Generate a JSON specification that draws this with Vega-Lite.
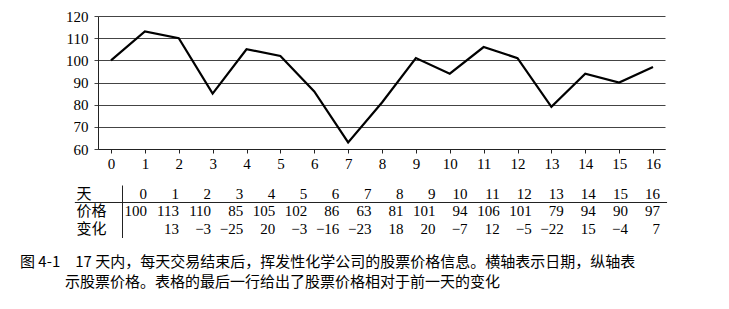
{
  "$schema": "https://vega.github.io/schema/vega-lite/v6.json",
  "padding": {"left": 20, "top": 9, "right": 2, "bottom": 5},
  "background": "white",
  "config": {"view": {"stroke": null}, "font": "Liberation Serif, DejaVu Serif, serif", "concat": {"spacing": 14}},
  "title": {
    "text": ["图 4-1\u300017 天内，每天交易结束后，挥发性化学公司的股票价格信息。横轴表示日期，纵轴表", "\u200b\u3000\u3000\u3000示股票价格。表格的最后一行给出了股票价格相对于前一天的变化"],
    "orient": "bottom", "anchor": "start", "frame": "group",
    "font": "Noto Sans CJK SC", "fontSize": 15, "fontWeight": "normal",
    "lineHeight": 20, "color": "black", "offset": 17, "dx": -78
  },
  "data": {"values": [
    {"天": 0, "价格": 100, "变化": null},
    {"天": 1, "价格": 113, "变化": 13},
    {"天": 2, "价格": 110, "变化": -3},
    {"天": 3, "价格": 85, "变化": -25},
    {"天": 4, "价格": 105, "变化": 20},
    {"天": 5, "价格": 102, "变化": -3},
    {"天": 6, "价格": 86, "变化": -16},
    {"天": 7, "价格": 63, "变化": -23},
    {"天": 8, "价格": 81, "变化": 18},
    {"天": 9, "价格": 101, "变化": 20},
    {"天": 10, "价格": 94, "变化": -7},
    {"天": 11, "价格": 106, "变化": 12},
    {"天": 12, "价格": 101, "变化": -5},
    {"天": 13, "价格": 79, "变化": -22},
    {"天": 14, "价格": 94, "变化": 15},
    {"天": 15, "价格": 90, "变化": -4},
    {"天": 16, "价格": 97, "变化": 7}
  ]},
  "vconcat": [
    {
      "width": 567,
      "height": 133,
      "mark": {"type": "line", "color": "black", "strokeWidth": 2.2},
      "encoding": {
        "x": {
          "field": "天", "type": "quantitative",
          "scale": {"domain": [-0.384, 16.354], "nice": false, "zero": false},
          "axis": {
            "values": [0, 1, 2, 3, 4, 5, 6, 7, 8, 9, 10, 11, 12, 13, 14, 15, 16],
            "title": null, "grid": false, "tickSize": 4, "labelPadding": 3,
            "labelFontSize": 15, "labelFont": "Liberation Serif, DejaVu Serif, serif", "labelColor": "black",
            "labelFlush": false, "domainColor": "#222", "tickColor": "#222"
          }
        },
        "y": {
          "field": "价格", "type": "quantitative",
          "scale": {"domain": [60, 120], "nice": false, "zero": false},
          "axis": {
            "values": [60, 70, 80, 90, 100, 110, 120],
            "title": null, "grid": true, "gridColor": "#444", "gridOpacity": 1, "gridWidth": 1,
            "tickSize": 4, "labelPadding": 6, "labelFontSize": 15, "labelFont": "Liberation Serif, DejaVu Serif, serif",
            "labelColor": "black", "domainColor": "#222", "tickColor": "#444"
          }
        }
      }
    },
    {
      "width": 567,
      "height": 52.5,
      "layer": [
        {
          "transform": [
            {"fold": ["天", "价格", "变化"], "as": ["row", "value"]},
            {"filter": "datum.value != null"}
          ],
          "mark": {"type": "text", "align": "right", "baseline": "middle", "fontSize": 15, "font": "Liberation Serif, DejaVu Serif, serif", "color": "black"},
          "encoding": {
            "x": {
              "field": "天", "type": "quantitative",
              "scale": {"domain": [-1.528, 16.156], "nice": false, "zero": false},
              "axis": null
            },
            "y": {
              "field": "row", "type": "nominal",
              "scale": {"domain": ["天", "价格", "变化"], "paddingInner": 0, "paddingOuter": 0},
              "axis": {
                "title": null, "orient": "left", "offset": -24, "ticks": false, "tickSize": 0,
                "labelPadding": 46, "labelAlign": "left", "labelFont": "Liberation Serif, Noto Sans CJK SC, serif",
                "labelFontSize": 15, "labelColor": "black", "domainColor": "#222", "domainWidth": 1
              }
            },
            "text": {"field": "value", "type": "quantitative", "format": "d"}
          }
        },
        {
          "transform": [{"filter": "datum['天'] === 0"}],
          "mark": {"type": "rule", "color": "#222", "strokeWidth": 1},
          "encoding": {
            "x": {"datum": -2.25, "type": "quantitative"},
            "x2": {"datum": 16.22},
            "y": {"datum": "价格", "type": "nominal", "bandPosition": 0}
          }
        }
      ]
    }
  ]
}
